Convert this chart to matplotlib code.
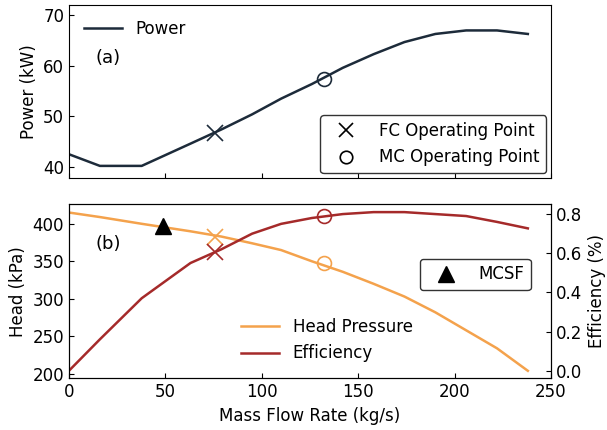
import matplotlib
matplotlib.use('Agg')
import matplotlib.pyplot as plt
from matplotlib.lines import Line2D

# Data
mass_flow = [0, 16, 37.7, 63, 79, 95, 110, 126, 142, 158, 174, 190, 206, 222, 238]
power = [42.5, 40.2, 40.2, 44.6, 47.4, 50.4, 53.5, 56.4, 59.6, 62.3, 64.7, 66.3, 67.0, 67.0, 66.3]
head = [415, 409, 400, 390, 383, 374, 365, 350, 336, 320, 303, 282, 258, 234, 204]
efficiency = [0.0, 0.16, 0.37, 0.55, 0.62, 0.70, 0.75, 0.78, 0.80, 0.81, 0.81, 0.80, 0.79, 0.76, 0.727]

fc_flow = 75.5
fc_power = 46.8
fc_head = 382
fc_eff = 0.608

mc_flow = 132.4
mc_power = 57.4
mc_head = 347.6
mc_eff = 0.79

mcsf_flow = 48.6
mcsf_head = 397.3

c_power = '#1d2b3a'
c_head = '#f4a24c'
c_eff = '#a52a2a'

plt.rcParams['font.size'] = 12
plt.rcParams['legend.handlelength'] = 2.3

fig = plt.figure(figsize=(6.07, 4.30), dpi=100)
ax1 = fig.add_axes([0.1137, 0.586, 0.794, 0.402])
ax2 = fig.add_axes([0.1137, 0.1202, 0.794, 0.4047])
ax3 = ax2.twinx()

# (a) power
ax1.plot(mass_flow, power, color=c_power, lw=1.8, label='Power')
ax1.plot(fc_flow, fc_power, 'x', color=c_power, ms=11, mew=1.2)
ax1.plot(mc_flow, mc_power, 'o', color=c_power, ms=10, mfc='none', mew=1.2)
ax1.set_xlim(0, 250)
ax1.set_ylim(37.8, 72.0)
ax1.set_yticks([40, 50, 60, 70])
ax1.set_xticks([0, 50, 100, 150, 200, 250])
ax1.tick_params(direction='in', labelbottom=False)
ax1.set_ylabel('Power (kW)')
ax1.text(0.055, 0.665, '(a)', transform=ax1.transAxes, fontsize=13)
leg_p = ax1.legend(loc='upper left', frameon=False)
ax1.add_artist(leg_p)
op_handles = [Line2D([], [], ls='none', marker='x', color='k', ms=10, mew=1.2),
              Line2D([], [], ls='none', marker='o', color='k', ms=9, mfc='none', mew=1.2)]
ax1.legend(op_handles, ['FC Operating Point', 'MC Operating Point'], loc='lower right',
           borderaxespad=0.3, edgecolor='#333333', framealpha=1)

# (b) head and efficiency
l_head, = ax2.plot(mass_flow, head, color=c_head, lw=1.8, label='Head Pressure')
ax2.plot(fc_flow, fc_head, 'x', color=c_head, ms=12, mew=1.2)
ax2.plot(mc_flow, mc_head, 'o', color=c_head, ms=10, mfc='none', mew=1.2)
ax2.plot(mcsf_flow, mcsf_head, '^', color='k', ms=11, ls='none')

l_eff, = ax3.plot(mass_flow, efficiency, color=c_eff, lw=1.8, label='Efficiency')
ax3.plot(fc_flow, fc_eff, 'x', color=c_eff, ms=12, mew=1.2)
ax3.plot(mc_flow, mc_eff, 'o', color=c_eff, ms=10, mfc='none', mew=1.2)

ax2.set_xlim(0, 250)
ax2.set_ylim(194, 426)
ax3.set_ylim(-0.039, 0.85)
ax2.set_yticks([200, 250, 300, 350, 400])
ax3.set_yticks([0.0, 0.2, 0.4, 0.6, 0.8])
ax2.set_xticks([0, 50, 100, 150, 200, 250])
ax2.tick_params(direction='in')
ax3.tick_params(direction='in')
ax2.set_xlabel('Mass Flow Rate (kg/s)')
ax2.set_ylabel('Head (kPa)')
ax3.set_ylabel('Efficiency (%)')
ax2.text(0.055, 0.745, '(b)', transform=ax2.transAxes, fontsize=13)

leg_he = ax3.legend([l_head, l_eff], ['Head Pressure', 'Efficiency'], loc='lower center',
                    bbox_to_anchor=(0.535, 0.005), frameon=False)
ax3.add_artist(leg_he)
tri = Line2D([], [], ls='none', marker='^', color='k', ms=11)
ax3.legend([tri], ['MCSF'], loc='center right', bbox_to_anchor=(0.975, 0.597),
           edgecolor='#333333', framealpha=1)

fig.savefig('out.png', dpi=100)
